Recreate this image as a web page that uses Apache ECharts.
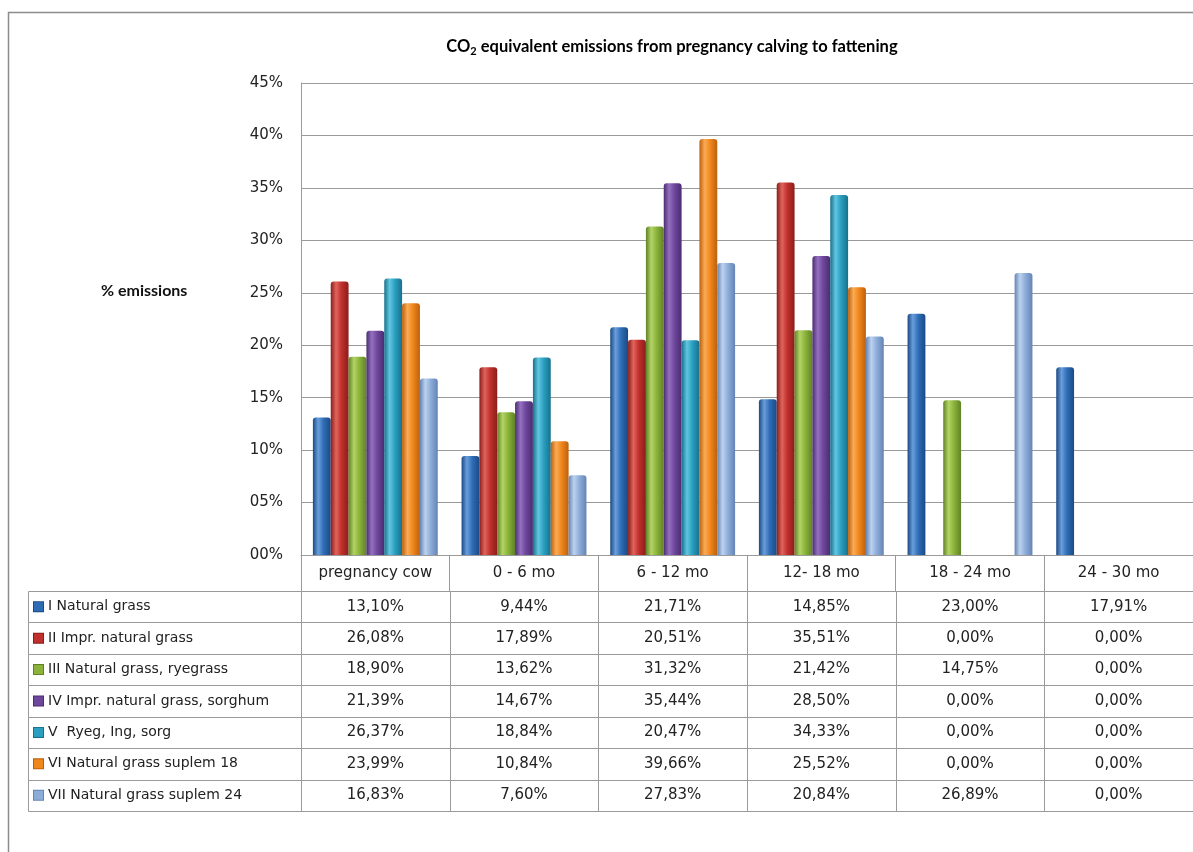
<!DOCTYPE html>
<html>
<head>
<meta charset="utf-8">
<script src="https://cdn.jsdelivr.net/npm/echarts@6/dist/echarts.min.js"></script>
<style>
  html, body { margin: 0; padding: 0; background: #ffffff; }
  #chart { width: 1193px; height: 852px; }
</style>
</head>
<body>
<div id="chart"></div>
<script>
// Periods of the production cycle
const categories = ['pregnancy cow', '0 - 6 mo', '6 - 12 mo', '12- 18 mo', '18 - 24 mo', '24 - 30 mo'];

// Feeding systems
const seriesNames = [
  'I Natural grass',
  'II Impr. natural grass',
  'III Natural grass, ryegrass',
  'IV Impr. natural grass, sorghum',
  'V  Ryeg, Ing, sorg',
  'VI Natural grass suplem 18',
  'VII Natural grass suplem 24'
];

// Share of CO2-equivalent emissions per period (%)
const naturalGrass          = [13.10,  9.44, 21.71, 14.85, 23.00, 17.91];
const imprNaturalGrass      = [26.08, 17.89, 20.51, 35.51,  0.00,  0.00];
const naturalGrassRyegrass  = [18.90, 13.62, 31.32, 21.42, 14.75,  0.00];
const imprGrassSorghum      = [21.39, 14.67, 35.44, 28.50,  0.00,  0.00];
const ryegIngSorg           = [26.37, 18.84, 20.47, 34.33,  0.00,  0.00];
const naturalGrassSuplem18  = [23.99, 10.84, 39.66, 25.52,  0.00,  0.00];
const naturalGrassSuplem24  = [16.83,  7.60, 27.83, 20.84, 26.89,  0.00];

// Value axis ticks (%)
const yTicks = [0, 5, 10, 15, 20, 25, 30, 35, 40, 45];

const seriesValues = [
  naturalGrass, imprNaturalGrass, naturalGrassRyegrass, imprGrassSorghum,
  ryegIngSorg, naturalGrassSuplem18, naturalGrassSuplem24
];

// Base / highlight / shade tones for the cylinder-like bars
const palette = [
  { base: '#2e6db6', light: '#6a9edc', dark: '#1b4a85' },
  { base: '#c0302c', light: '#e0645c', dark: '#8a1d1a' },
  { base: '#8bb33a', light: '#b2d466', dark: '#5f8226' },
  { base: '#6e479c', light: '#9570c0', dark: '#4a2c70' },
  { base: '#2a9fc0', light: '#62c6e0', dark: '#17718c' },
  { base: '#f0871c', light: '#fbab55', dark: '#bd600c' },
  { base: '#8dadd9', light: '#bcd2ef', dark: '#6584b5' }
];

const TEXT_FONT = '"DejaVu Sans", Verdana, sans-serif';
const BOLD_FONT = 'Lato, "Open Sans", sans-serif';
const LINE_COLOR = '#9a9a9a';
const TABLE_LEFT = 28;

function pct(v) {
  return v.toFixed(2).replace('.', ',') + '%';
}

function barGradient(p) {
  return new echarts.graphic.LinearGradient(0, 0, 1, 0, [
    { offset: 0, color: p.dark },
    { offset: 0.3, color: p.light },
    { offset: 0.6, color: p.base },
    { offset: 1, color: p.dark }
  ]);
}

// Rich-text styles for the colour keys beside the row names
const keyRich = {};
palette.forEach(function (p, i) {
  keyRich['k' + i] = { width: 9, height: 9, backgroundColor: p.base, borderColor: p.dark, borderWidth: 1 };
});
keyRich.name = { fontFamily: TEXT_FONT, fontSize: 14, color: '#222', padding: [0, 0, 0, 5] };

// Table cells: one item per (period, system)
const tableData = [];
seriesValues.forEach(function (vals, si) {
  vals.forEach(function (v, ci) { tableData.push([ci, si, v]); });
});

const barSeries = seriesNames.map(function (name, i) {
  return {
    name: name,
    type: 'bar',
    xAxisIndex: 0,
    yAxisIndex: 0,
    data: seriesValues[i],
    barGap: '0%',
    barCategoryGap: '16%',
    itemStyle: { color: barGradient(palette[i]), borderRadius: [3, 3, 0, 0] },
    emphasis: { disabled: true }
  };
});

const chart = echarts.init(document.getElementById('chart'), null, { renderer: 'canvas' });

chart.setOption({
  animation: false,
  backgroundColor: '#ffffff',
  title: [
    {
      text: '% emissions',
      left: 96,
      top: 278,
      textStyle: { fontFamily: BOLD_FONT, fontWeight: 'bold', fontSize: 16, color: '#111' }
    }
  ],
  graphic: [
    {
      type: 'rect',
      shape: { x: 8.5, y: 12.5, width: 1400, height: 1000 },
      style: { fill: 'none', stroke: '#8c8c8c', lineWidth: 1.5 },
      silent: true
    },
    {
      type: 'text',
      x: 672,
      y: 47,
      style: {
        text: '{t|CO}{s|2}{t| equivalent emissions from pregnancy calving to fattening}',
        align: 'center',
        verticalAlign: 'middle',
        rich: {
          t: { fontFamily: BOLD_FONT, fontWeight: 'bold', fontSize: 16.5, color: '#111', lineHeight: 20 },
          s: { fontFamily: BOLD_FONT, fontWeight: 'bold', fontSize: 11, color: '#111', lineHeight: 20, verticalAlign: 'bottom', padding: [7, 0, 0, 0] }
        }
      }
    }
  ],
  grid: [
    { left: 301, top: 83, width: 900, height: 472 },
    { left: 301, top: 591, width: 900, height: 220 }
  ],
  xAxis: [
    {
      gridIndex: 0,
      type: 'category',
      data: categories,
      axisLine: { show: true, lineStyle: { color: LINE_COLOR, width: 1 } },
      axisTick: { show: true, length: 36, lineStyle: { color: LINE_COLOR } },
      axisLabel: { color: '#222', fontFamily: TEXT_FONT, fontSize: 15, margin: 11 }
    },
    {
      gridIndex: 1,
      type: 'category',
      data: categories,
      show: false
    }
  ],
  yAxis: [
    {
      gridIndex: 0,
      type: 'value',
      min: yTicks[0],
      max: yTicks[yTicks.length - 1],
      interval: yTicks[1] - yTicks[0],
      axisLine: { show: true, lineStyle: { color: LINE_COLOR, width: 1 } },
      axisTick: { show: false },
      axisLabel: {
        color: '#222', fontFamily: TEXT_FONT, fontSize: 15, margin: 18,
        formatter: function (v) { return (v < 10 ? '0' : '') + v + '%'; }
      },
      splitLine: { show: true, lineStyle: { color: LINE_COLOR, width: 1 } }
    },
    {
      gridIndex: 1,
      type: 'category',
      data: seriesNames,
      inverse: true,
      axisLine: { show: false },
      axisTick: { show: false },
      splitLine: { show: false },
      axisLabel: {
        align: 'left',
        margin: 267,
        formatter: function (value, idx) { return '{k' + idx + '|}{name|' + value + '}'; },
        rich: keyRich
      }
    }
  ],
  series: barSeries.concat([
    {
      type: 'custom',
      name: 'table',
      xAxisIndex: 1,
      yAxisIndex: 1,
      data: tableData,
      encode: { x: 0, y: 1 },
      silent: true,
      renderItem: function (params, api) {
        const ci = api.value(0);
        const c = api.coord([ci, api.value(1)]);
        const s = api.size([1, 1]);
        // Snap cell edges so neighbouring cells share the same pixel line
        const x0 = Math.round(c[0] - s[0] / 2) + 0.5;
        const x1 = Math.round(c[0] + s[0] / 2) + 0.5;
        const y0 = Math.round(c[1] - s[1] / 2) + 0.5;
        const y1 = Math.round(c[1] + s[1] / 2) + 0.5;
        const children = [
          {
            type: 'rect',
            shape: { x: x0, y: y0, width: x1 - x0, height: y1 - y0 },
            style: { fill: 'none', stroke: LINE_COLOR, lineWidth: 1 }
          },
          {
            type: 'text',
            style: {
              text: pct(api.value(2)),
              x: c[0], y: c[1],
              align: 'center', verticalAlign: 'middle',
              fontFamily: TEXT_FONT, fontSize: 15, fill: '#222'
            }
          }
        ];
        if (ci === 0) {
          children.push({
            type: 'rect',
            shape: { x: TABLE_LEFT + 0.5, y: y0, width: x0 - TABLE_LEFT - 0.5, height: y1 - y0 },
            style: { fill: 'none', stroke: LINE_COLOR, lineWidth: 1 }
          });
        }
        return { type: 'group', children: children };
      }
    }
  ])
});
</script>
</body>
</html>
